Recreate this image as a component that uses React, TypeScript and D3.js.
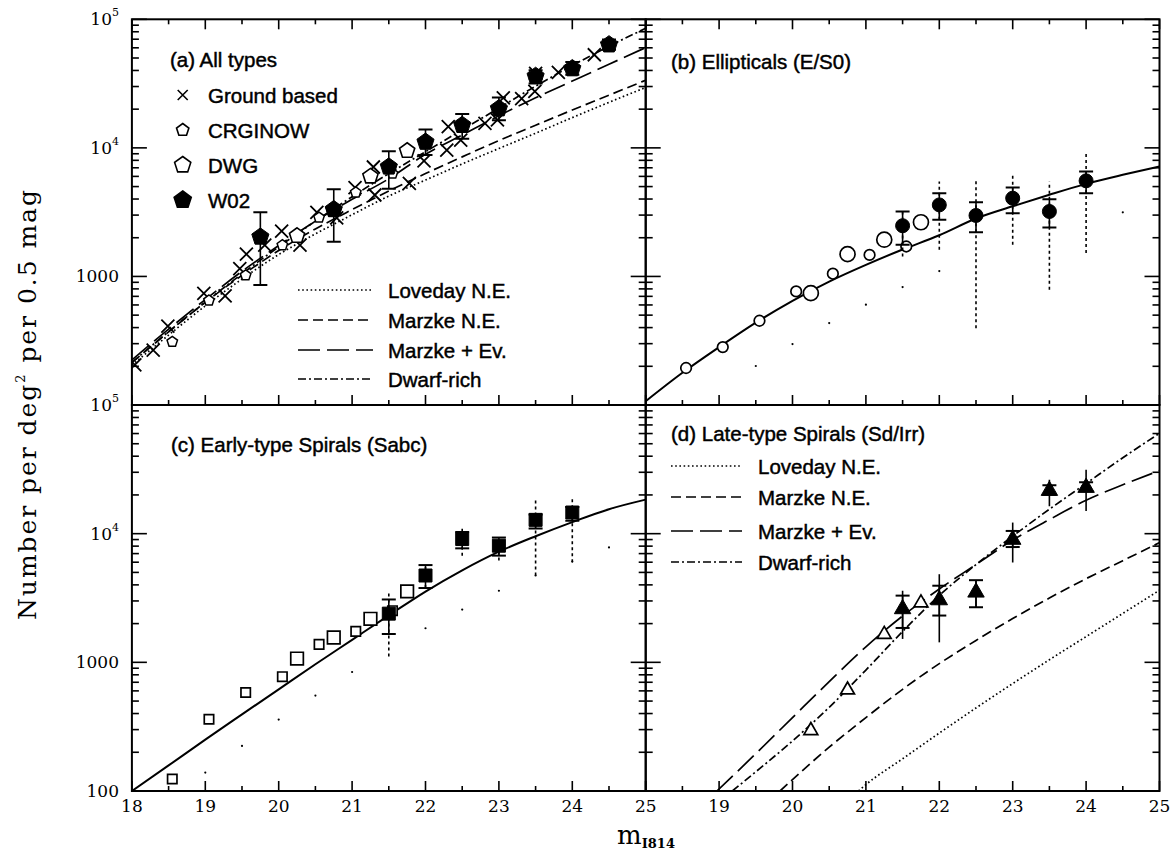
import { useEffect, useRef } from "react";
import * as d3 from "d3";

// magnitude grid the model curves are tabulated on
const modelMags = [18, 18.5, 19, 19.5, 20, 20.5, 21, 21.5, 22, 22.5, 23, 23.5, 24, 24.5, 25];

// (a) all types
const groundMags = [18.04, 18.29, 18.49, 18.98, 19.27, 19.47, 19.56, 19.81, 20.04, 20.29, 20.52, 20.79, 21.04, 21.29, 21.31, 21.78, 21.98, 22.29, 22.31, 22.48, 22.81, 22.98, 23.06, 23.31, 23.49, 23.5, 23.81, 24.3];
const groundCounts = [205, 267, 411, 738, 707, 1150, 1490, 1750, 2250, 1750, 3150, 2850, 4900, 7100, 4300, 5300, 7930, 9600, 14600, 11500, 15500, 16500, 24500, 24200, 27500, 38000, 38600, 53000];
const crgMags = [18.55, 19.05, 19.55, 20.05, 20.55, 21.05, 21.55];
const crgCountsA = [310, 650, 1020, 1750, 2870, 4500, 6300];
const dwgMags = [20.25, 20.75, 21.25, 21.75];
const dwgCountsA = [2070, 3300, 6000, 9500];
const w02MagsA = [19.75, 20.75, 21.5, 22, 22.5, 23, 23.5, 24, 24.5];
const w02CountsA = [2030, 3320, 7120, 11100, 15000, 20200, 36100, 41400, 63500];
const w02LowA = [858, 1860, 4800, 8800, 11800, 16400, 31600, 37100, 58000];
const w02HighA = [3150, 4770, 9420, 13900, 18300, 24600, 40200, 46600, 69500];
const lovedayA = [204, 350, 590, 955, 1480, 2140, 3020, 4220, 5620, 7500, 9890, 13000, 17200, 22600, 29500];
const marzkeA = [214, 370, 630, 1020, 1590, 2340, 3310, 4620, 6310, 8510, 11400, 15000, 19700, 25700, 33600];
const marzkeEvA = [224, 389, 661, 1096, 1738, 2692, 3981, 5750, 8910, 12600, 17800, 24500, 33100, 44700, 60300];
const dwarfA = [214, 372, 631, 1047, 1698, 2692, 4169, 6310, 9330, 13800, 20400, 30200, 43700, 61700, 85100];

// W02 magnitudes in panels b-d
const w02Mags = [21.5, 22, 22.5, 23, 23.5, 24];

// (b) ellipticals
const crgCountsB = [194, 282, 452, 765, 1050, 1470, 1710];
const dwgCountsB = [741, 1490, 1930, 2640];
const w02CountsB = [2480, 3600, 2980, 4060, 3200, 5540];
const w02LowB = [1760, 2760, 2210, 3100, 2400, 4440];
const w02HighB = [3200, 4440, 3780, 4920, 3990, 6550];
const w02WideLowB = [1430, 1610, 396, 1760, 787, 1520];
const w02WideHighB = [3200, 5480, 5640, 6170, 5480, 9380];
const dotMagsB = [19.5, 20, 20.5, 21, 21.5, 22, 24.5];
const dotCountsB = [201, 298, 434, 603, 826, 1100, 3150];
const modelB = [107, 178, 282, 437, 646, 912, 1230, 1620, 2090, 2820, 3510, 4320, 5250, 6170, 7160];

// (c) early-type spirals
const crgCountsC = [124, 361, 583, 773, 1380, 1740, 2520];
const dwgCountsC = [1070, 1560, 2180, 3560];
const w02CountsC = [2390, 4730, 9080, 8060, 12800, 14600];
const w02LowC = [1660, 3780, 7690, 6750, 10960, 12600];
const w02HighC = [3080, 5700, 10300, 9330, 14100, 16100];
const w02WideLowC = [1110, 3780, 6750, 6180, 4730, 5990];
const w02WideHighC = [3620, 5700, 11500, 9330, 19000, 19400];
const dotMagsC = [19, 19.5, 20, 20.5, 21, 22, 22.5, 23, 23.5, 24, 24.5];
const dotCountsC = [139, 224, 359, 552, 841, 1840, 2570, 3600, 4730, 6070, 7820];
const modelC = [100, 158, 251, 394, 617, 966, 1496, 2317, 3548, 5188, 7244, 9550, 12300, 15500, 18400];

// (d) late-type spirals
const dwgCountsD = [295, 610, 1650, 2900];
const w02CountsD = [2600, 3050, 3500, 9000, 21600, 22800];
const w02LowD = [1850, 2310, 2680, 7870, 20100, 21400];
const w02HighD = [3300, 3940, 4350, 10500, 23800, 25100];
const w02WideLowD = [1520, 1430, 2680, 5970, 16300, 15000];
const w02WideHighD = [3600, 4840, 4350, 12200, 26300, 31400];
const lovedayMagsD = [20.9, 21, 21.5, 22, 22.5, 23, 23.5, 24, 24.5, 25];
const lovedayD = [100, 112, 178, 282, 442, 684, 1047, 1585, 2399, 3631];
const marzkeMagsD = [19.83, 20.5, 21, 21.5, 22, 22.5, 23, 23.5, 24, 24.5, 25];
const marzkeD = [100, 219, 372, 617, 977, 1480, 2190, 3160, 4470, 6170, 8510];
const marzkeEvMagsD = [18.97, 19.5, 20, 20.5, 21, 21.5, 22, 22.5, 23, 23.5, 24, 24.5, 25];
const marzkeEvD = [100, 195, 372, 708, 1318, 2291, 3715, 5754, 8913, 12882, 18197, 23988, 30903];
const dwarfMagsD = [19.18, 19.5, 20, 20.5, 21, 21.5, 22, 22.5, 23, 23.5, 24, 24.5, 25];
const dwarfD = [100, 141, 245, 447, 871, 1738, 3311, 5754, 9550, 15488, 24547, 38905, 60256];

const modelNames = ["Loveday N.E.", "Marzke N.E.", "Marzke + Ev.", "Dwarf-rich"];
const sourceNames = ["Ground based", "CRGINOW", "DWG", "W02"];
const panelTitles = ["(a) All types", "(b) Ellipticals (E/S0)", "(c) Early-type Spirals (Sabc)", "(d) Late-type Spirals (Sd/Irr)"];

const axisFont = "'DejaVu Serif', serif";
const labelFont = "'Liberation Sans', Arial, sans-serif";

const dashes = ["1.6,2.6", "10,5", "22,7", "8,3,2,3"];

// custom symbol shapes, size = circumradius
const pentagon = {
  draw(ctx, r) {
    for (let i = 0; i < 5; i++) {
      const a = -Math.PI / 2 + (i * 2 * Math.PI) / 5;
      if (i === 0) ctx.moveTo(r * Math.cos(a), r * Math.sin(a));
      else ctx.lineTo(r * Math.cos(a), r * Math.sin(a));
    }
    ctx.closePath();
  },
};
const times = {
  draw(ctx, r) {
    ctx.moveTo(-r, -r);
    ctx.lineTo(r, r);
    ctx.moveTo(r, -r);
    ctx.lineTo(-r, r);
  },
};
const square = {
  draw(ctx, r) {
    ctx.rect(-r, -r, 2 * r, 2 * r);
  },
};
const circle = {
  draw(ctx, r) {
    ctx.moveTo(r, 0);
    ctx.arc(0, 0, r, 0, 2 * Math.PI);
  },
};
const triangle = {
  draw(ctx, r) {
    ctx.moveTo(0, -r);
    ctx.lineTo(r * 0.866, r * 0.5);
    ctx.lineTo(-r * 0.866, r * 0.5);
    ctx.closePath();
  },
};

export default function App() {
  const svgRef = useRef(null);

  useEffect(() => {
    const width = 1172;
    const height = 857;
    const left = 131.9;
    const mid = 645.7;
    const right = 1159.5;
    const top = 19.3;
    const midY = 405;
    const bottom = 791;

    const svg = d3.select(svgRef.current)
      .attr("width", width)
      .attr("height", height)
      .attr("viewBox", [0, 0, width, height]);
    svg.selectAll("*").remove();

    svg.append("rect").attr("width", width).attr("height", height).attr("fill", "#fff");

    const panels = [
      { x0: left, x1: mid, y0: midY, y1: top, upper: true },
      { x0: mid, x1: right, y0: midY, y1: top, upper: true },
      { x0: left, x1: mid, y0: bottom, y1: midY, upper: false },
      { x0: mid, x1: right, y0: bottom, y1: midY, upper: false },
    ].map((p, i) => {
      const x = d3.scaleLinear().domain([18, 25]).range([p.x0, p.x1]);
      const y = d3.scaleLog().domain([100, 1e5]).range([p.y0, p.y1]);
      const clipId = "clip" + i;
      svg.append("clipPath").attr("id", clipId)
        .append("rect")
        .attr("x", p.x0).attr("y", p.y1)
        .attr("width", p.x1 - p.x0).attr("height", p.y0 - p.y1);
      const g = svg.append("g").attr("clip-path", `url(#${clipId})`);
      return { ...p, x, y, g, ticks: svg.append("g") };
    });

    // ticks on each panel
    const yMajor = [100, 1000, 1e4, 1e5];
    const yMinor = [];
    for (let k = 2; k < 5; k++) for (let m = 2; m < 10; m++) yMinor.push(m * 10 ** k);
    const xMajor = d3.range(18, 26, 1);
    const xMinor = d3.range(18.5, 25, 1);

    panels.forEach(p => {
      const t = p.ticks.attr("stroke", "#000").attr("stroke-width", 1.6);
      const tick = (x1, y1, x2, y2) => t.append("line").attr("x1", x1).attr("y1", y1).attr("x2", x2).attr("y2", y2);
      yMajor.forEach(v => {
        tick(p.x0, p.y(v), p.x0 + 15, p.y(v));
        tick(p.x1, p.y(v), p.x1 - 15, p.y(v));
      });
      yMinor.forEach(v => {
        tick(p.x0, p.y(v), p.x0 + 7, p.y(v));
        tick(p.x1, p.y(v), p.x1 - 7, p.y(v));
      });
      xMajor.forEach(v => {
        tick(p.x(v), p.y0, p.x(v), p.y0 - 10);
        if (p.upper) tick(p.x(v), p.y1, p.x(v), p.y1 + 10);
      });
      xMinor.forEach(v => {
        tick(p.x(v), p.y0, p.x(v), p.y0 - 5);
        if (p.upper) tick(p.x(v), p.y1, p.x(v), p.y1 + 5);
      });
      p.ticks.append("rect")
        .attr("x", p.x0).attr("y", p.y1)
        .attr("width", p.x1 - p.x0).attr("height", p.y0 - p.y1)
        .attr("fill", "none").attr("stroke-width", 2);
    });

    const zip = (a, b) => a.map((v, i) => [v, b[i]]);

    const drawCurve = (p, mags, vals, dash, w = 1.7) => {
      const line = d3.line()
        .x(d => p.x(d[0]))
        .y(d => p.y(d[1]))
        .curve(d3.curveMonotoneX);
      p.g.append("path")
        .attr("d", line(zip(mags, vals)))
        .attr("fill", "none")
        .attr("stroke", "#000")
        .attr("stroke-width", w)
        .attr("stroke-dasharray", dash);
    };

    const drawPoints = (p, mags, vals, shape, r, filled, sw = 1.7) => {
      const sym = d3.symbol().type(shape).size(r);
      p.g.append("g")
        .selectAll("path")
        .data(zip(mags, vals))
        .join("path")
        .attr("transform", d => `translate(${p.x(d[0])},${p.y(d[1])})`)
        .attr("d", sym())
        .attr("fill", filled ? "#000" : "#fff")
        .attr("stroke", "#000")
        .attr("stroke-width", sw);
    };

    const drawBars = (p, mags, lo, hi, capped, dash, sw = 1.6) => {
      const g = p.g.append("g").attr("stroke", "#000").attr("stroke-width", sw);
      mags.forEach((m, i) => {
        const xm = p.x(m);
        g.append("line")
          .attr("x1", xm).attr("x2", xm)
          .attr("y1", p.y(lo[i])).attr("y2", p.y(hi[i]))
          .attr("stroke-dasharray", dash);
        if (capped) {
          [lo[i], hi[i]].forEach(v => {
            g.append("line")
              .attr("x1", xm - 7).attr("x2", xm + 7)
              .attr("y1", p.y(v)).attr("y2", p.y(v))
              .attr("stroke-width", 2);
          });
        }
      });
    };

    const drawDots = (p, mags, vals) => {
      p.g.append("g")
        .selectAll("circle")
        .data(zip(mags, vals))
        .join("circle")
        .attr("cx", d => p.x(d[0]))
        .attr("cy", d => p.y(d[1]))
        .attr("r", 1.1)
        .attr("fill", "#000");
    };

    const [pa, pb, pc, pd] = panels;

    // (a)
    drawCurve(pa, modelMags, lovedayA, dashes[0]);
    drawCurve(pa, modelMags, marzkeA, dashes[1]);
    drawCurve(pa, modelMags, marzkeEvA, dashes[2]);
    drawCurve(pa, modelMags, dwarfA, dashes[3]);
    drawPoints(pa, groundMags, groundCounts, times, 6.5, false, 1.8);
    drawPoints(pa, crgMags, crgCountsA, pentagon, 5.5, false, 1.5);
    drawPoints(pa, dwgMags, dwgCountsA, pentagon, 8, false, 1.6);
    drawBars(pa, w02MagsA, w02LowA, w02HighA, true, null);
    drawPoints(pa, w02MagsA, w02CountsA, pentagon, 9, true, 1);

    // (b)
    drawCurve(pb, modelMags, modelB, null, 2);
    drawDots(pb, dotMagsB, dotCountsB);
    drawPoints(pb, crgMags, crgCountsB, circle, 5.3, false, 1.7);
    drawPoints(pb, dwgMags, dwgCountsB, circle, 7.5, false, 1.7);
    drawBars(pb, w02Mags, w02WideLowB, w02WideHighB, false, "3,3", 1.6);
    drawBars(pb, w02Mags, w02LowB, w02HighB, true, null);
    drawPoints(pb, w02Mags, w02CountsB, circle, 7, true, 1);

    // (c)
    drawCurve(pc, modelMags, modelC, null, 2);
    drawDots(pc, dotMagsC, dotCountsC);
    drawPoints(pc, crgMags, crgCountsC, square, 4.7, false, 1.7);
    drawPoints(pc, dwgMags, dwgCountsC, square, 6.3, false, 1.7);
    drawBars(pc, w02Mags, w02WideLowC, w02WideHighC, false, "3,3", 1.6);
    drawBars(pc, w02Mags, w02LowC, w02HighC, true, null);
    drawPoints(pc, w02Mags, w02CountsC, square, 6.5, true, 1);

    // (d)
    drawCurve(pd, lovedayMagsD, lovedayD, dashes[0]);
    drawCurve(pd, marzkeMagsD, marzkeD, dashes[1]);
    drawCurve(pd, marzkeEvMagsD, marzkeEvD, dashes[2]);
    drawCurve(pd, dwarfMagsD, dwarfD, dashes[3]);
    drawPoints(pd, dwgMags, dwgCountsD, triangle, 8, false, 1.7);
    drawBars(pd, w02Mags, w02WideLowD, w02WideHighD, false, null, 1.6);
    drawBars(pd, w02Mags, w02LowD, w02HighD, true, null);
    drawPoints(pd, w02Mags, w02CountsD, triangle, 9.5, true, 1);

    // panel titles
    const titlePos = [[170, 67], [671, 69], [171, 452], [671, 441]];
    panelTitles.forEach((t, i) => {
      svg.append("text")
        .attr("x", titlePos[i][0]).attr("y", titlePos[i][1])
        .attr("font-family", labelFont).attr("font-size", 20.5)
        .attr("stroke", "#000").attr("stroke-width", 0.45)
        .text(t);
    });

    // (a) source legend
    const srcShapes = [[times, 5, false], [pentagon, 6.5, false], [pentagon, 8.5, false], [pentagon, 9, true]];
    sourceNames.forEach((name, i) => {
      const yy = 95 + i * 35;
      const [shape, r, filled] = srcShapes[i];
      svg.append("path")
        .attr("transform", `translate(182.7,${yy})`)
        .attr("d", d3.symbol().type(shape).size(r)())
        .attr("fill", filled ? "#000" : "#fff")
        .attr("stroke", "#000").attr("stroke-width", 1.6);
      svg.append("text")
        .attr("x", 208).attr("y", yy + 7.5)
        .attr("font-family", labelFont).attr("font-size", 20.5)
        .attr("stroke", "#000").attr("stroke-width", 0.45)
        .text(name);
    });

    // model legends in (a) and (d)
    const modelLegend = (lx0, lx1, tx, ys) => {
      modelNames.forEach((name, i) => {
        svg.append("line")
          .attr("x1", lx0).attr("x2", lx1)
          .attr("y1", ys[i]).attr("y2", ys[i])
          .attr("stroke", "#000").attr("stroke-width", 1.7)
          .attr("stroke-dasharray", dashes[i]);
        svg.append("text")
          .attr("x", tx).attr("y", ys[i] + 7.5)
          .attr("font-family", labelFont).attr("font-size", 20.5)
          .attr("stroke", "#000").attr("stroke-width", 0.45)
          .text(name);
      });
    };
    modelLegend(298, 373, 388, [290, 320, 350, 379]);
    modelLegend(671, 742, 758, [466, 497, 531, 562]);

    // y tick labels
    const yl = svg.append("g").attr("font-family", axisFont).attr("font-size", 17).attr("text-anchor", "end");
    const yLabel = (yy, v) => {
      const t = yl.append("text").attr("x", 119).attr("y", yy + 6);
      if (v >= 1e4) {
        t.append("tspan").text("10");
        t.append("tspan").attr("dy", -9).attr("font-size", 11).text(Math.round(Math.log10(v)));
      } else {
        t.text(v);
      }
    };
    [1000, 1e4, 1e5].forEach(v => yLabel(pa.y(v), v));
    [100, 1000, 1e4, 1e5].forEach(v => yLabel(pc.y(v), v));

    // x tick labels
    const xl = svg.append("g").attr("font-family", axisFont).attr("font-size", 17).attr("text-anchor", "middle");
    xMajor.forEach(v => xl.append("text").attr("x", pc.x(v)).attr("y", 812).text(v));
    xMajor.slice(1).forEach(v => xl.append("text").attr("x", pd.x(v)).attr("y", 812).text(v));

    // axis titles
    const xt = svg.append("text")
      .attr("x", 646).attr("y", 844)
      .attr("text-anchor", "middle")
      .attr("font-family", axisFont);
    xt.append("tspan").attr("font-size", 26).text("m");
    xt.append("tspan").attr("font-size", 13).attr("font-weight", "bold").attr("dy", 4).text("I814");

    const yt = svg.append("text")
      .attr("transform", "translate(36,405) rotate(-90)")
      .attr("text-anchor", "middle")
      .attr("font-family", axisFont)
      .attr("font-size", 25)
      .attr("textLength", 430)
      .attr("lengthAdjust", "spacing");
    yt.append("tspan").text("Number per deg");
    yt.append("tspan").attr("font-size", 13).attr("dy", -11).text("2");
    yt.append("tspan").attr("dy", 11).text(" per 0.5 mag");
  }, []);

  return (
    <svg ref={svgRef} style={{ position: "absolute", left: 0, top: 0 }}></svg>
  );
}
